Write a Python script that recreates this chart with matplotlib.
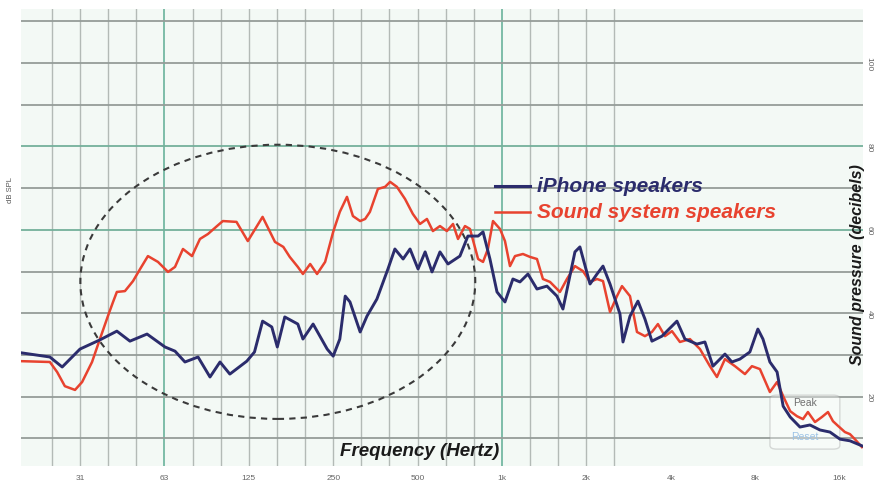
import matplotlib
matplotlib.use("Agg")
import matplotlib.pyplot as plt
from matplotlib.patches import Ellipse, FancyBboxPatch
from matplotlib.ticker import NullLocator
import matplotlib.transforms as mtransforms

# ---- data (frequency in Hz, level in dB SPL) ----
iphone_freq = [19.3, 24.4, 27.0, 31.25, 36.8, 42.3, 47.1, 54.2, 62.8, 68.2, 74.0, 82.4, 90.9, 98.7,
               107, 123, 131, 140, 151, 158, 168, 187, 195, 212, 238, 250, 264, 276, 287, 312, 330,
               358, 392, 415, 444, 470, 502, 532, 563, 601, 642, 708, 756, 822, 856, 906, 960, 1025,
               1094, 1159, 1238, 1333, 1447, 1571, 1650, 1821, 1897, 2061, 2183, 2293, 2429, 2636,
               2702, 2862, 3055, 3236, 3427, 3722, 4208, 4494, 4958, 5296, 5657, 6243, 6610, 7060,
               7660, 8180, 8530, 9030, 9580, 10070, 10670, 11560, 12550, 13620, 14790, 16060, 17430,
               19230]
iphone_db = [30.5, 29.5, 27.1, 31.4, 33.6, 35.7, 33.3, 35.0, 31.9, 30.9, 28.3, 29.5, 24.7, 28.3,
             25.4, 28.5, 30.7, 38.1, 36.7, 31.9, 39.1, 37.4, 33.8, 37.4, 31.4, 29.7, 33.8, 44.1, 42.7,
             35.5, 39.3, 43.4, 50.6, 55.4, 53.0, 55.4, 50.6, 54.7, 49.9, 54.7, 51.8, 53.7, 58.5, 58.5,
             59.5, 53.0, 45.1, 42.7, 48.2, 47.5, 49.4, 45.8, 46.5, 44.1, 41.0, 54.7, 55.9, 47.0, 49.4,
             51.3, 47.0, 39.8, 33.1, 39.3, 42.9, 38.6, 33.3, 34.5, 38.1, 33.8, 32.6, 33.1, 27.3, 30.2,
             28.3, 29.0, 30.7, 36.2, 33.8, 28.3, 25.9, 17.7, 15.1, 12.7, 13.2, 12.0, 11.5, 9.8, 9.4,
             8.2]

sound_freq = [19.3, 24.4, 25.9, 27.6, 30.0, 31.8, 34.5, 36.8, 39.3, 41.0, 42.3, 45.2, 48.3, 51.2,
              54.6, 59.3, 64.4, 68.2, 72.8, 78.4, 83.7, 89.4, 96.3, 101, 113, 124, 140, 155, 166, 175,
              187, 195, 207, 219, 234, 250, 264, 280, 294, 312, 325, 338, 361, 383, 399, 422, 451,
              481, 510, 540, 567, 601, 636, 669, 697, 738, 769, 822, 856, 891, 929, 984, 1025, 1068,
              1113, 1188, 1259, 1333, 1400, 1484, 1610, 1705, 1821, 1945, 2061, 2183, 2293, 2429,
              2572, 2680, 2862, 3031, 3236, 3427, 3600, 3813, 4040, 4313, 4682, 5085, 5518, 5845,
              6243, 6779, 7357, 7793, 8320, 9030, 9580, 10070, 10670, 11280, 11850, 12340, 13080,
              13840, 14550, 15160, 15790, 16720, 17430, 18140, 19230]
sound_db = [28.5, 28.3, 25.9, 22.5, 21.6, 23.5, 28.3, 33.8, 39.3, 42.7, 45.1, 45.3, 47.7, 50.6,
            53.7, 52.3, 49.9, 51.1, 55.4, 53.7, 57.8, 59.0, 60.9, 62.1, 61.9, 57.3, 63.1, 57.1, 55.9,
            53.5, 51.1, 49.4, 51.8, 49.4, 52.3, 59.5, 64.3, 67.9, 63.3, 62.1, 62.6, 64.3, 69.8, 70.3,
            71.5, 70.3, 67.4, 63.8, 61.4, 62.6, 59.7, 60.9, 59.7, 61.4, 57.8, 60.9, 60.2, 53.0, 52.3,
            55.4, 62.1, 60.2, 57.3, 51.3, 53.7, 54.2, 53.5, 53.0, 48.2, 47.5, 45.1, 48.2, 51.3, 50.1,
            47.5, 48.2, 47.7, 40.3, 44.1, 46.5, 44.1, 35.5, 34.5, 35.5, 37.4, 34.5, 35.7, 33.1, 33.8,
            31.4, 27.3, 24.7, 29.0, 27.3, 25.4, 27.3, 26.6, 21.1, 23.5, 20.1, 16.5, 15.3, 14.6, 16.3,
            13.9, 15.1, 16.3, 14.1, 13.0, 11.5, 11.0, 9.8, 7.9]

tick_freqs = [31.25, 62.5, 125, 250, 500, 1000, 2000, 4000, 8000, 16000]
tick_labels = ["31", "63", "125", "250", "500", "1k", "2k", "4k", "8k", "16k"]
db_ticks = [100, 80, 60, 40, 20]
db_labels = ["100", "80", "60", "40", "20"]
series_names = ["iPhone speakers", "Sound system speakers"]

NAVY = "#2b2c6c"
RED = "#e8432f"

fig = plt.figure(figsize=(8.78, 4.81), dpi=100)
fig.patch.set_facecolor("white")
W, H = 878, 481
ax = fig.add_axes([21 / W, 14 / H, 842 / W, 457 / H])
ax.set_xscale("log")
ax.set_xlim(19.25, 19400)
ax.set_ylim(3.36, 112.95)
ax.set_facecolor("#f3f9f5")
for s in ax.spines.values():
    s.set_visible(False)
for axis in (ax.xaxis, ax.yaxis):
    axis.set_major_locator(NullLocator())
    axis.set_minor_locator(NullLocator())

# grid: third-octave verticals, 10 dB horizontals
major_freqs = [62.5, 1000, 16000]
for k in range(-16, 5):
    f = 1000 * 2 ** (k / 3)
    major = any(abs(f / m - 1) < 0.01 for m in major_freqs)
    ax.axvline(f, color="#74b8a2" if major else "#b3bab6", lw=1.3 if major else 1.0, zorder=1)
for v in range(10, 111, 10):
    major = v in (60, 80)
    ax.axhline(v, color="#74b09b" if major else "#959d99", lw=1.3, zorder=1)

# curves
ax.plot(sound_freq, sound_db, color=RED, lw=1.8, zorder=4, solid_joinstyle="round")
ax.plot(iphone_freq, iphone_db, color=NAVY, lw=2.1, zorder=5, solid_joinstyle="round")

# dashed ellipse
ax.add_patch(Ellipse((0.305, 0.403), 0.469, 0.600, transform=ax.transAxes, fill=False,
                     ls=(0, (3, 2.5)), lw=1.5, color="#3a3a3a", zorder=3))

# legend (manual)
ax.plot([0.563, 0.6045], [0.6127, 0.6127], transform=ax.transAxes, color=NAVY, lw=2.2, zorder=6)
ax.plot([0.563, 0.6045], [0.5558, 0.5558], transform=ax.transAxes, color=RED, lw=1.8, zorder=6)
ax.text(0.6128, 0.6127, series_names[0], transform=ax.transAxes, color=NAVY, fontsize=15,
        fontweight="bold", fontstyle="italic", family="Liberation Sans", va="center", ha="left", zorder=6)
ax.text(0.6128, 0.5558, series_names[1], transform=ax.transAxes, color=RED, fontsize=15,
        fontweight="bold", fontstyle="italic", family="Liberation Sans", va="center", ha="left", zorder=6)

# axis titles
ax.text(0.474, 0.035, "Frequency (Hertz)", transform=ax.transAxes, fontsize=13.5, fontweight="bold",
        fontstyle="italic", family="Liberation Sans", color="#1a1a1a", ha="center", va="center", zorder=6)
ax.text(0.993, 0.442, "Sound pressure (decibels)", transform=ax.transAxes, fontsize=11.5,
        fontweight="bold", fontstyle="italic", family="Liberation Sans", color="#1a1a1a",
        rotation=90, ha="center", va="center", zorder=6)

# Peak / Reset box
ax.add_patch(FancyBboxPatch((0.8895, 0.037), 0.083, 0.118, transform=ax.transAxes,
                            boxstyle="round,pad=0,rounding_size=0.008", fc="white", alpha=0.35,
                            ec="#9a9a9a", lw=1.0, zorder=3))
ax.text(0.931, 0.14, "Peak", transform=ax.transAxes, fontsize=7.5, color="#6f6f6f",
        family="Liberation Sans", ha="center", va="center", zorder=6)
ax.text(0.931, 0.066, "Reset", transform=ax.transAxes, fontsize=7.5, color="#9cc3e6",
        family="Liberation Sans", ha="center", va="center", zorder=6)

# tick labels (small, gray)
bt = mtransforms.blended_transform_factory(ax.transData, fig.transFigure)
for f, lab in zip(tick_freqs, tick_labels):
    fig.text(f, 2 / H, lab, transform=bt, fontsize=6, color="#666666", ha="center", va="center",
             family="Liberation Sans")
rt = mtransforms.blended_transform_factory(fig.transFigure, ax.transData)
for v, lab in zip(db_ticks, db_labels):
    fig.text(869 / W, v, lab, transform=rt, fontsize=6, color="#666666", ha="center", va="center",
             rotation=-90, family="Liberation Sans")
fig.text(10 / W, 1 - 190 / H, "dB SPL", fontsize=5.5, color="#555555", rotation=90,
         ha="center", va="center", family="Liberation Sans")

fig.savefig("out.png", dpi=100, facecolor="white")
